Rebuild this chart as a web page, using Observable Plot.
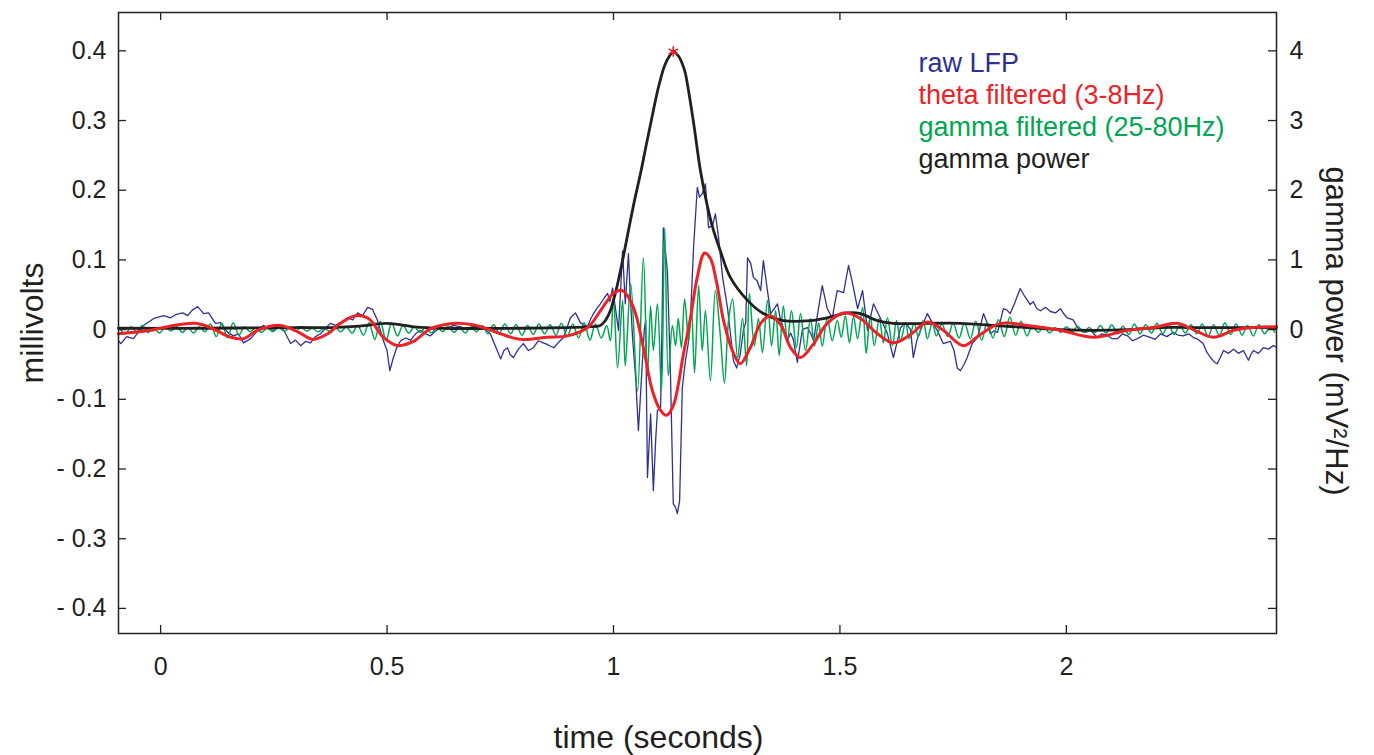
<!DOCTYPE html>
<html><head><meta charset="utf-8">
<script src="https://cdn.jsdelivr.net/npm/d3@7"></script>
<script src="https://cdn.jsdelivr.net/npm/@observablehq/plot@0.6"></script>
<style>
body{margin:0;background:#fff;}
#chart{width:1374px;height:755px;}
</style></head><body><div id="chart"></div>
<script>
// ---------- data (time in seconds, LFP in millivolts, power in mV^2/Hz) ----------
const rawLFP = [[-0.093,-0.016],[-0.088,-0.020],[-0.075,-0.010],[-0.060,-0.013],[-0.038,0.006],[-0.015,0.016],[0.007,0.020],[0.022,0.017],[0.035,0.022],[0.049,0.024],[0.060,0.020],[0.070,0.028],[0.082,0.033],[0.095,0.023],[0.106,0.024],[0.121,0.009],[0.132,0.010],[0.148,-0.004],[0.161,-0.009],[0.172,-0.006],[0.183,-0.019],[0.199,-0.013],[0.214,-0.001],[0.227,0.006],[0.238,0.002],[0.249,-0.001],[0.260,0.004],[0.272,-0.001],[0.287,-0.020],[0.298,-0.015],[0.309,-0.023],[0.320,-0.017],[0.331,-0.019],[0.342,-0.010],[0.353,-0.006],[0.364,0.002],[0.375,0.009],[0.386,0.006],[0.397,0.010],[0.413,0.017],[0.424,0.014],[0.435,0.024],[0.446,0.020],[0.457,0.032],[0.468,0.029],[0.479,0.013],[0.492,-0.016],[0.500,-0.030],[0.506,-0.059],[0.514,-0.040],[0.522,-0.025],[0.530,-0.016],[0.541,-0.012],[0.552,-0.015],[0.563,-0.006],[0.574,-0.001],[0.585,-0.006],[0.596,-0.009],[0.607,-0.002],[0.618,0.003],[0.632,0.001],[0.647,0.006],[0.662,0.004],[0.678,0.001],[0.692,0.005],[0.706,0.003],[0.717,0.000],[0.728,-0.006],[0.740,-0.025],[0.751,-0.042],[0.758,-0.030],[0.766,-0.026],[0.772,-0.036],[0.779,-0.040],[0.790,-0.028],[0.801,-0.020],[0.812,-0.030],[0.823,-0.026],[0.834,-0.016],[0.845,-0.019],[0.856,-0.022],[0.868,-0.026],[0.879,-0.018],[0.890,-0.011],[0.898,0.004],[0.905,0.017],[0.916,0.024],[0.927,0.010],[0.936,0.006],[0.943,0.005],[0.950,0.016],[0.956,0.023],[0.963,0.030],[0.971,0.037],[0.979,0.045],[0.987,0.052],[0.992,0.040],[0.998,0.060],[1.004,0.032],[1.011,-0.001],[1.016,0.060],[1.020,0.113],[1.026,0.037],[1.033,0.109],[1.037,0.050],[1.042,-0.011],[1.049,-0.069],[1.055,-0.145],[1.060,-0.090],[1.064,-0.044],[1.068,0.000],[1.071,0.013],[1.075,-0.212],[1.082,-0.121],[1.088,-0.231],[1.093,-0.160],[1.097,-0.116],[1.104,-0.112],[1.107,0.000],[1.110,0.146],[1.115,0.110],[1.119,0.085],[1.126,-0.069],[1.132,-0.250],[1.137,-0.255],[1.141,-0.264],[1.146,-0.246],[1.152,-0.083],[1.159,-0.044],[1.165,-0.020],[1.170,0.017],[1.177,0.120],[1.185,0.204],[1.190,0.190],[1.196,0.195],[1.203,0.209],[1.210,0.146],[1.219,0.150],[1.225,0.166],[1.232,0.132],[1.241,0.075],[1.252,0.030],[1.265,-0.045],[1.272,-0.055],[1.280,-0.035],[1.287,0.000],[1.292,0.010],[1.296,0.103],[1.303,0.095],[1.309,0.075],[1.317,0.070],[1.325,0.056],[1.331,0.099],[1.340,0.056],[1.347,0.023],[1.355,0.030],[1.362,0.037],[1.368,0.017],[1.376,0.000],[1.384,-0.016],[1.391,-0.005],[1.397,-0.014],[1.406,-0.047],[1.417,0.000],[1.428,0.003],[1.435,-0.005],[1.442,-0.016],[1.450,0.020],[1.461,0.063],[1.472,0.030],[1.483,0.017],[1.494,0.056],[1.508,0.053],[1.519,0.092],[1.528,0.066],[1.539,0.030],[1.550,0.056],[1.561,-0.001],[1.574,0.037],[1.589,0.017],[1.605,-0.006],[1.618,-0.040],[1.634,0.003],[1.645,0.010],[1.656,0.000],[1.662,-0.040],[1.670,-0.015],[1.678,-0.001],[1.693,0.023],[1.704,0.010],[1.715,-0.001],[1.728,-0.020],[1.744,-0.017],[1.752,-0.030],[1.759,-0.055],[1.766,-0.059],[1.774,-0.050],[1.781,-0.040],[1.792,-0.020],[1.804,-0.011],[1.817,0.023],[1.825,0.010],[1.832,-0.006],[1.840,-0.002],[1.848,-0.004],[1.861,0.030],[1.869,0.028],[1.876,0.023],[1.887,0.040],[1.898,0.059],[1.906,0.050],[1.914,0.042],[1.920,0.036],[1.927,0.040],[1.935,0.030],[1.943,0.027],[1.954,0.032],[1.965,0.026],[1.976,0.024],[1.987,0.030],[1.995,0.022],[2.002,0.017],[2.015,0.014],[2.023,0.005],[2.031,-0.001],[2.042,-0.004],[2.053,-0.001],[2.068,-0.011],[2.079,-0.006],[2.090,-0.008],[2.101,-0.013],[2.113,-0.013],[2.124,-0.006],[2.135,-0.009],[2.146,-0.016],[2.157,-0.013],[2.170,-0.008],[2.185,-0.011],[2.196,-0.014],[2.208,-0.006],[2.222,-0.010],[2.236,-0.004],[2.247,-0.008],[2.258,-0.009],[2.270,-0.006],[2.280,-0.011],[2.291,-0.014],[2.302,-0.020],[2.310,-0.032],[2.318,-0.040],[2.326,-0.046],[2.333,-0.049],[2.340,-0.040],[2.347,-0.030],[2.358,-0.034],[2.369,-0.028],[2.380,-0.034],[2.391,-0.030],[2.402,-0.044],[2.408,-0.035],[2.413,-0.030],[2.424,-0.034],[2.435,-0.026],[2.446,-0.028],[2.457,-0.023],[2.464,-0.025]];

const thetaFiltered = [[-0.093,-0.006],[-0.022,-0.001],[0.029,0.006],[0.077,0.009],[0.110,0.003],[0.155,-0.011],[0.183,-0.013],[0.214,-0.001],[0.265,0.006],[0.305,-0.004],[0.336,-0.014],[0.369,-0.006],[0.397,0.009],[0.430,0.020],[0.459,0.016],[0.492,-0.011],[0.525,-0.023],[0.558,-0.017],[0.596,0.001],[0.651,0.009],[0.689,0.007],[0.722,0.001],[0.751,-0.006],[0.795,-0.014],[0.854,-0.011],[0.898,-0.009],[0.943,0.003],[0.971,0.027],[1.000,0.052],[1.020,0.056],[1.044,0.032],[1.066,-0.026],[1.086,-0.088],[1.104,-0.116],[1.117,-0.123],[1.132,-0.109],[1.155,-0.033],[1.170,0.017],[1.185,0.075],[1.201,0.110],[1.214,0.102],[1.227,0.070],[1.243,0.013],[1.265,-0.034],[1.280,-0.049],[1.302,-0.026],[1.325,0.009],[1.347,0.020],[1.369,0.007],[1.391,-0.026],[1.413,-0.040],[1.442,-0.020],[1.472,0.009],[1.508,0.024],[1.545,0.016],[1.583,-0.006],[1.618,-0.019],[1.656,-0.007],[1.693,0.011],[1.728,-0.001],[1.773,-0.023],[1.810,-0.007],[1.854,0.009],[1.914,0.006],[1.987,-0.001],[2.060,-0.011],[2.135,-0.001],[2.192,0.003],[2.245,0.009],[2.280,0.000],[2.325,-0.011],[2.369,-0.001],[2.413,0.003],[2.464,0.004]];

const gammaT = [-0.090,-0.078,-0.065,-0.053,-0.040,-0.028,-0.015,-0.003,0.010,0.023,0.035,0.048,0.060,0.073,0.085,0.098,0.110,0.123,0.135,0.148,0.160,0.173,0.185,0.198,0.210,0.223,0.235,0.248,0.260,0.273,0.285,0.298,0.310,0.323,0.335,0.348,0.360,0.373,0.385,0.398,0.410,0.423,0.435,0.448,0.460,0.473,0.485,0.498,0.510,0.523,0.535,0.548,0.560,0.573,0.585,0.598,0.610,0.623,0.635,0.648,0.660,0.673,0.685,0.698,0.710,0.723,0.735,0.748,0.760,0.773,0.785,0.798,0.810,0.823,0.835,0.848,0.860,0.873,0.885,0.898,0.910,0.923,0.935,0.948,0.960,0.973,0.985,
0.993,1.000,1.009,1.020,1.026,1.038,1.053,1.066,1.075,1.082,1.088,1.097,1.106,1.113,1.121,1.130,1.137,1.143,1.150,1.157,1.166,1.172,1.179,1.188,1.196,1.203,1.214,1.225,1.236,1.245,1.254,1.263,1.274,1.285,1.294,1.300,1.311,1.320,1.329,1.340,1.349,1.358,1.366,1.375,1.384,1.393,1.404,1.413,1.424,1.435,1.444,1.453,1.461,1.472,1.483,1.494,1.503,1.512,1.521,1.530,1.539,1.550,1.558,1.567,1.576,1.587,1.596,1.605,1.616,1.625,1.634,1.645,1.653,1.664,1.673,1.684,1.693,1.704,1.713,
1.725,1.738,1.750,1.763,1.775,1.788,1.800,1.813,1.825,1.838,1.850,1.863,1.875,1.888,1.900,1.913,1.925,1.938,1.950,1.963,1.975,1.988,2.000,2.013,2.025,2.038,2.050,2.063,2.075,2.088,2.100,2.113,2.125,2.138,2.150,2.163,2.175,2.188,2.200,2.213,2.225,2.238,2.250,2.263,2.275,2.288,2.300,2.313,2.325,2.338,2.350,2.363,2.375,2.388,2.400,2.413,2.425,2.438,2.450,2.460];

const gammaV = [0.002,-0.006,0.004,-0.003,0.006,-0.004,0.003,-0.005,0.004,-0.002,0.005,-0.004,0.003,-0.005,0.004,-0.003,
0.008,-0.010,0.009,-0.012,0.010,-0.008,
0.004,-0.003,0.003,-0.004,0.002,-0.003,0.003,
-0.002,0.002,-0.002,0.003,-0.002,0.002,-0.003,0.002,
-0.002,0.003,-0.003,0.004,
-0.005,0.006,-0.008,0.010,-0.014,0.012,-0.016,0.010,-0.009,0.006,-0.005,
0.004,-0.004,0.003,-0.005,0.004,-0.003,0.005,-0.004,0.003,-0.005,0.004,-0.003,
0.006,-0.006,0.007,-0.005,0.008,-0.006,0.007,-0.008,0.006,-0.007,0.008,-0.006,0.007,
-0.008,0.009,-0.010,0.008,-0.012,0.010,-0.015,0.008,-0.012,0.006,
-0.016,0.046,-0.055,0.042,-0.052,0.066,-0.088,0.103,-0.066,0.034,-0.030,0.037,-0.088,0.146,-0.066,0.006,-0.023,0.016,-0.026,0.044,-0.016,0.034,-0.062,0.063,-0.030,0.027,-0.073,0.056,-0.009,-0.077,0.013,0.044,-0.040,0.016,-0.052,0.052,-0.023,0.016,-0.033,0.042,-0.023,0.027,-0.037,0.034,-0.016,0.027,-0.026,0.023,-0.030,0.016,-0.023,0.010,-0.024,0.017,-0.016,0.013,-0.011,0.020,-0.019,0.019,-0.013,0.032,-0.034,0.020,-0.023,0.016,-0.019,0.017,-0.023,0.013,-0.016,0.010,-0.013,0.010,-0.010,0.013,-0.013,0.010,-0.009,
0.008,-0.010,0.009,-0.012,0.010,
-0.013,0.012,-0.015,0.010,-0.012,0.014,-0.010,0.018,-0.008,0.012,-0.009,
0.005,-0.004,0.004,-0.005,0.003,-0.004,0.004,-0.003,0.005,-0.004,0.003,-0.004,
0.006,-0.005,0.007,-0.006,0.005,-0.007,0.008,-0.006,0.007,-0.005,0.009,-0.006,0.008,-0.007,0.006,-0.005,0.007,
-0.006,0.008,-0.010,0.007,-0.009,0.010,-0.007,0.008,-0.008,0.006,-0.009,0.007,-0.006,0.005,-0.004];

const gammaPower = [[-0.093,0.02],[0.1,0.02],[0.3,0.03],[0.38,0.03],[0.44,0.05],[0.50,0.09],[0.56,0.04],[0.62,0.02],[0.8,0.02],[0.9,0.03],[0.94,0.04],[0.971,0.06],[0.982,0.13],[0.993,0.27],[1.007,0.60],[1.020,0.99],[1.033,1.42],[1.046,1.84],[1.060,2.25],[1.073,2.67],[1.086,3.08],[1.099,3.47],[1.113,3.79],[1.124,3.93],[1.132,3.99],[1.143,3.93],[1.157,3.72],[1.163,3.53],[1.177,2.96],[1.192,2.28],[1.208,1.75],[1.221,1.42],[1.236,1.13],[1.258,0.75],[1.296,0.42],[1.331,0.23],[1.375,0.13],[1.435,0.13],[1.472,0.17],[1.517,0.24],[1.545,0.23],[1.583,0.13],[1.618,0.09],[1.693,0.09],[1.766,0.09],[1.839,0.06],[1.914,0.03],[1.987,0.0],[2.060,-0.01],[2.135,0.0],[2.208,0.03],[2.280,0.03],[2.464,0.03]];

const xTicks = [0, 0.5, 1, 1.5, 2];
const yTicks = [-0.4, -0.3, -0.2, -0.1, 0, 0.1, 0.2, 0.3, 0.4];
const powerTicks = [0, 1, 2, 3, 4];
const legendLabels = ["raw LFP", "theta filtered (3-8Hz)", "gamma filtered (25-80Hz)", "gamma power"];
const legendColors = ["#2e3192", "#ec2227", "#00a651", "#231f20"];
const xLabel = "time (seconds)";
const yLabel = "millivolts";
const y2Label = "gamma power (mV\u00b2/Hz)";

// ---------- layout ----------
const W = 1374, H = 755, mL = 118, mR = 98, mT = 12, mB = 122;
const frameW = W - mL - mR, frameH = H - mT - mB;
const powerPerMv = 10; // right axis: 1 mV^2/Hz per 0.1 mV
const ink = "#231f20";
const gammaFiltered = gammaT.map((t, i) => [t, gammaV[i]]);
const peak = d3.greatest(gammaPower, d => d[1]);

const fmtLeft = d => d === 0 ? "0" : (d < 0 ? "- " + Math.abs(d).toFixed(1) : d.toFixed(1));

const chart = Plot.plot({
  width: W, height: H,
  marginLeft: mL, marginRight: mR, marginTop: mT, marginBottom: mB,
  style: {fontFamily: "'Liberation Sans', Arial, sans-serif", fontSize: "25px", background: "#fff", color: ink},
  x: {domain: [-0.093, 2.464]},
  y: {domain: [-0.436, 0.455]},
  marks: [
    Plot.line(rawLFP, {x: d => d[0], y: d => d[1], stroke: legendColors[0], strokeWidth: 1.3}),
    Plot.line(gammaFiltered, {x: d => d[0], y: d => d[1], stroke: legendColors[2], strokeWidth: 1.5, curve: "catmull-rom"}),
    Plot.line(gammaPower, {x: d => d[0], y: d => d[1] / powerPerMv, stroke: legendColors[3], strokeWidth: 2.8, curve: "catmull-rom"}),
    Plot.line(thetaFiltered, {x: d => d[0], y: d => d[1], stroke: legendColors[1], strokeWidth: 3, curve: "catmull-rom"}),
    Plot.dot([peak], {x: d => d[0], y: d => d[1] / powerPerMv, symbol: "asterisk", r: 5, stroke: legendColors[1], strokeWidth: 1.7}),
    Plot.frame({stroke: ink, strokeWidth: 1.5}),
    Plot.tickY(yTicks, {y: d => d, insetRight: frameW - 8, stroke: ink, strokeWidth: 1.3}),
    Plot.tickY(yTicks, {y: d => d, insetLeft: frameW - 8, stroke: ink, strokeWidth: 1.3}),
    Plot.tickX(xTicks, {x: d => d, insetTop: frameH - 8, stroke: ink, strokeWidth: 1.3}),
    Plot.tickX(xTicks, {x: d => d, insetBottom: frameH - 8, stroke: ink, strokeWidth: 1.3}),
    Plot.axisY({anchor: "left", ticks: yTicks, tickSize: 0, tickPadding: 12, tickFormat: fmtLeft, label: null, fill: ink}),
    Plot.axisY({anchor: "right", ticks: powerTicks.map(p => p / powerPerMv), tickSize: 0, tickPadding: 13, tickFormat: d => String(Math.round(d * powerPerMv)), label: null, fill: ink}),
    Plot.axisX({anchor: "bottom", ticks: xTicks, tickSize: 0, tickPadding: 24, tickFormat: d => String(d), label: null, fill: ink}),
    Plot.text([yLabel], {frameAnchor: "left", dx: -86, rotate: -90, text: d => d, textAnchor: "middle", lineAnchor: "middle", fontSize: 32, fill: ink}),
    Plot.text([y2Label], {frameAnchor: "right", dx: 59, dy: 8, rotate: 90, text: d => d, textAnchor: "middle", lineAnchor: "middle", fontSize: 31, fill: ink}),
    Plot.text([xLabel], {frameAnchor: "bottom", dx: -39, dy: 104, text: d => d, textAnchor: "middle", lineAnchor: "middle", fontSize: 32, fill: ink}),
    ...legendLabels.map((label, i) => Plot.text([label], {frameAnchor: "top-left", dx: 800, dy: 51 + i * 31.8, text: d => d, textAnchor: "start", lineAnchor: "middle", fontSize: 27, fill: legendColors[i]}))
  ]
});
document.getElementById("chart").appendChild(chart);
</script>
</body></html>
